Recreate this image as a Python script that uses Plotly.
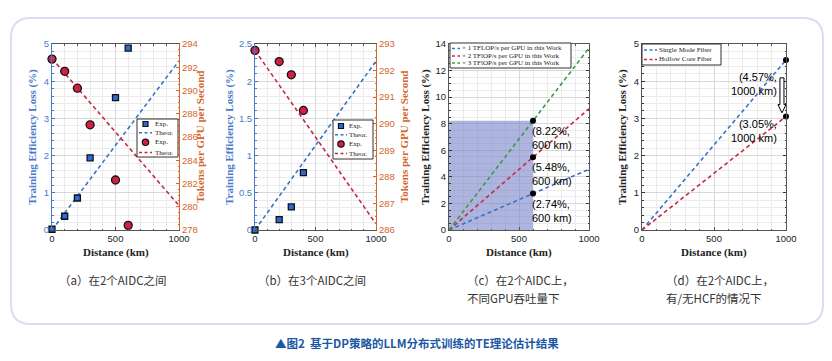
import plotly.graph_objects as go

# ---------------- data ----------------
# (a) between 2 AIDCs
dist_a_exp = [0, 100, 200, 300, 500, 600]
loss_a_exp = [0.02, 0.37, 0.86, 1.94, 3.56, 4.89]
tok_a_exp = [292.7, 291.65, 290.2, 287.05, 282.3, 278.4]
dist_theor = [0, 1000]
loss_a_theor = [0.0, 4.55]
tok_a_theor = [292.75, 280.1]

# (b) between 3 AIDCs
dist_b_exp = [0, 200, 300, 400]
loss_b_exp = [0.0, 0.14, 0.31, 0.77]
tok_b_exp = [292.76, 292.34, 291.84, 290.5]
loss_b_theor = [0.0, 2.27]
tok_b_theor = [292.76, 286.23]

# (c) different GPU throughput
tflops_labels = ["\u00d7 1 TFLOP/s per GPU in this Work",
                 "\u00d7 2 TFlOP/s per GPU in this Work",
                 "\u00d7 3 TFlOP/s per GPU in this Work"]
loss_c_start = [0.0, 0.0, 0.0]
loss_c_end = [4.57, 9.13, 13.7]
c_mark_dist = 600
c_mark_loss = [2.74, 5.48, 8.22]

# (d) with / without HCF
fiber_labels = ["Single Mode Fiber", "Hollow Core Fiber"]
loss_d_start = [0.0, 0.0]
loss_d_end = [4.57, 3.05]
d_mark_dist = 1000

sub_captions = ["\uff08a\uff09\u57282\u4e2aAIDC\u4e4b\u95f4",
                "\uff08b\uff09\u57283\u4e2aAIDC\u4e4b\u95f4",
                "\uff08c\uff09\u57282\u4e2aAIDC\u4e0a\uff0c", "\u4e0d\u540cGPU\u541e\u5410\u91cf\u4e0b",
                "\uff08d\uff09\u57282\u4e2aAIDC\u4e0a\uff0c", "\u6709/\u65e0HCF\u7684\u60c5\u51b5\u4e0b"]
main_caption = "\u25b2\u56fe2  \u57fa\u4e8eDP\u7b56\u7565\u7684LLM\u5206\u5e03\u5f0f\u8bad\u7ec3\u7684TE\u7406\u8bba\u4f30\u8ba1\u7ed3\u679c"

# ---------------- style ----------------
W, H = 832, 361
BLUE = "#3a72c6"
AXBLUE = "#4a7bcb"
RED = "#c42a45"
GREEN = "#3a9a46"
ORANGE = "#d4662c"
SQFILL = "#2c6ad4"
CIRFILL = "#d21f44"
GRID = "#d8d8d8"
MINOR = "#ebebeb"
FRAME = "#555555"
SERIF = "Liberation Serif, Times New Roman, serif"
SANS = "Liberation Sans, Arial, sans-serif"
CJK = "Noto Sans CJK SC"
DASH = "4px,3px"


def px(x):
    return x / W


def py(y):
    return 1 - y / H


Y_TOP, Y_BOT = 44, 230
PANELS = [(52, 179), (255, 376), (449, 589), (642, 786)]

fig = go.Figure()


def xaxis(i):
    l, r = PANELS[i]
    return dict(domain=[px(l), px(r)], range=[0, 1000], tickvals=[0, 500, 1000],
                automargin=False,
                showline=True, linecolor=FRAME, linewidth=1, mirror="ticks",
                ticks="inside", ticklen=3, tickcolor=FRAME,
                tickfont=dict(family=SANS, size=9.5, color="#222"),
                showgrid=True, gridcolor=GRID, gridwidth=0.8, zeroline=False,
                minor=dict(dtick=100, tick0=0, showgrid=True, gridcolor=MINOR,
                           ticks="inside", ticklen=1.5, tickcolor=FRAME),
                fixedrange=True)


def yaxis(anchor, rng, dtick, mdtick, color, mirror):
    return dict(domain=[py(Y_BOT), py(Y_TOP)], anchor=anchor, range=rng, dtick=dtick,
                automargin=False,
                tick0=rng[0], showline=True, linecolor=color, linewidth=1,
                mirror=mirror, ticks="inside", ticklen=3, tickcolor=color,
                tickfont=dict(family=SANS, size=9.5, color=color),
                showgrid=True, gridcolor=GRID, gridwidth=0.8, zeroline=False,
                minor=dict(dtick=mdtick, tick0=rng[0], showgrid=True, gridcolor=MINOR,
                           ticks="inside", ticklen=1.5, tickcolor=color),
                fixedrange=True)


def yaxis_right(overlay, anchor, rng, dtick):
    return dict(domain=[py(Y_BOT), py(Y_TOP)], overlaying=overlay, anchor=anchor, side="right",
                automargin=False,
                range=rng, dtick=dtick, tick0=rng[0], showline=True, linecolor=ORANGE,
                linewidth=1, ticks="inside", ticklen=3, tickcolor=ORANGE,
                tickfont=dict(family=SANS, size=9.5, color=ORANGE),
                showgrid=False, zeroline=False,
                minor=dict(dtick=dtick / 4, tick0=rng[0], showgrid=False,
                           ticks="inside", ticklen=1.5, tickcolor=ORANGE),
                fixedrange=True)


layout = dict(
    width=W, height=H, autosize=False, margin=dict(l=0, r=0, t=0, b=0),
    paper_bgcolor="white", plot_bgcolor="white", showlegend=False,
    xaxis=dict(xaxis(0), anchor="y"),
    yaxis=yaxis("x", [0, 5], 1, 0.2, AXBLUE, False),
    yaxis2=yaxis_right("y", "x", [278, 294], 2),
    xaxis2=dict(xaxis(1), anchor="y3"),
    yaxis3=yaxis("x2", [0, 2.5], 0.5, 0.1, AXBLUE, False),
    yaxis4=yaxis_right("y3", "x2", [286, 293], 1),
    xaxis3=dict(xaxis(2), anchor="y5"),
    yaxis5=yaxis("x3", [0, 14], 2, 0.5, "#333333", "ticks"),
    xaxis4=dict(xaxis(3), anchor="y6"),
    yaxis6=yaxis("x4", [0, 5], 1, 0.2, "#333333", "ticks"),
)
for k in ["yaxis5", "yaxis6"]:
    layout[k]["linecolor"] = FRAME
    layout[k]["tickfont"]["color"] = "#222"
fig.update_layout(**layout)


def dline(x, y, color, xa, ya):
    fig.add_trace(go.Scatter(x=x, y=y, mode="lines", xaxis=xa, yaxis=ya,
                             line=dict(color=color, width=1.6, dash=DASH), hoverinfo="skip"))


def squares(x, y, xa, ya):
    fig.add_trace(go.Scatter(x=x, y=y, mode="markers", xaxis=xa, yaxis=ya, cliponaxis=False,
                             marker=dict(symbol="square", size=6, color=SQFILL,
                                         line=dict(color="#111", width=1.3))))


def circles(x, y, xa, ya):
    fig.add_trace(go.Scatter(x=x, y=y, mode="markers", xaxis=xa, yaxis=ya, cliponaxis=False,
                             marker=dict(symbol="circle", size=8, color=CIRFILL,
                                         line=dict(color="#111", width=1.3))))


# (a)
dline(dist_theor, loss_a_theor, BLUE, "x", "y")
squares(dist_a_exp, loss_a_exp, "x", "y")
dline(dist_theor, tok_a_theor, RED, "x", "y2")
circles(dist_a_exp, tok_a_exp, "x", "y2")
# (b)
dline(dist_theor, loss_b_theor, BLUE, "x2", "y3")
squares(dist_b_exp, loss_b_exp, "x2", "y3")
dline(dist_theor, tok_b_theor, RED, "x2", "y4")
circles(dist_b_exp, tok_b_exp, "x2", "y4")
# (c)
fig.add_shape(type="rect", xref="x3", yref="y5", x0=0, x1=c_mark_dist, y0=0, y1=max(c_mark_loss),
              fillcolor="rgba(118,132,200,0.6)", line=dict(width=0), layer="between")
for s, e, col in zip(loss_c_start, loss_c_end, [BLUE, RED, GREEN]):
    dline(dist_theor, [s, e], col, "x3", "y5")
fig.add_trace(go.Scatter(x=[c_mark_dist] * 3, y=c_mark_loss, mode="markers", xaxis="x3", yaxis="y5",
                         marker=dict(size=6, color="black")))
for v in c_mark_loss:
    fig.add_annotation(xref="x3", yref="y5", x=c_mark_dist, y=v, xanchor="left", yanchor="top",
                       xshift=-3, yshift=-2, showarrow=False, align="left",
                       text=f"({v:.2f}%,<br>{c_mark_dist} km)",
                       font=dict(family=SANS, size=11, color="black"))
# (d)
for s, e, col in zip(loss_d_start, loss_d_end, [BLUE, RED]):
    dline(dist_theor, [s, e], col, "x4", "y6")
fig.add_trace(go.Scatter(x=[d_mark_dist] * 2, y=loss_d_end, mode="markers", xaxis="x4", yaxis="y6",
                         cliponaxis=False, marker=dict(size=6, color="black")))
for v, ys in zip(loss_d_end, [-9, 1]):
    fig.add_annotation(xref="x4", yref="y6", x=d_mark_dist, y=v, xanchor="right", yanchor="top",
                       xshift=-7, yshift=ys, showarrow=False, align="right",
                       text=f"({v:.2f}%,<br>{d_mark_dist} km)",
                       font=dict(family=SANS, size=11, color="black"))
# hollow arrow between the two values
ax_c = d_mark_dist - 28
top, base, tip = loss_d_end[0] - 0.48, loss_d_end[1] + 0.32, loss_d_end[1] + 0.1
sw, hw = 14, 28
path = (f"M {ax_c - sw},{top} L {ax_c + sw},{top} L {ax_c + sw},{base} L {ax_c + hw},{base} "
        f"L {ax_c},{tip} L {ax_c - hw},{base} L {ax_c - sw},{base} Z")
fig.add_shape(type="path", xref="x4", yref="y6", path=path, fillcolor="white",
              line=dict(color="black", width=1))


# ---------------- legends (drawn) ----------------
def legend(box, gx, tx, entries):
    x0, y0, x1, y1 = box
    fig.add_shape(type="rect", xref="paper", yref="paper", x0=px(x0), x1=px(x1), y0=py(y1), y1=py(y0),
                  fillcolor="white", line=dict(color="#333", width=1))
    for kind, col, label, yy in entries:
        if kind == "line":
            fig.add_shape(type="line", xref="paper", yref="paper", x0=px(gx[0]), x1=px(gx[1]),
                          y0=py(yy), y1=py(yy), line=dict(color=col, width=1.6, dash="3px,2.5px"))
        elif kind == "square":
            c = (gx[0] + gx[1]) / 2
            fig.add_shape(type="rect", xref="paper", yref="paper", x0=px(c - 2.5), x1=px(c + 2.5),
                          y0=py(yy + 2.5), y1=py(yy - 2.5), fillcolor=SQFILL,
                          line=dict(color="#111", width=1.2))
        else:
            c = (gx[0] + gx[1]) / 2
            fig.add_shape(type="circle", xref="paper", yref="paper", x0=px(c - 3.2), x1=px(c + 3.2),
                          y0=py(yy + 3.2), y1=py(yy - 3.2), fillcolor=CIRFILL,
                          line=dict(color="#111", width=1.2))
        fig.add_annotation(xref="paper", yref="paper", x=px(tx), y=py(yy), xanchor="left",
                           yanchor="middle", showarrow=False, text=label,
                           font=dict(family=SERIF, size=7, color="#222"))


legend((137, 119, 178, 157), (139, 152), 153,
       [("square", SQFILL, "Exp.", 124), ("line", BLUE, "Theor.", 132.7),
        ("circle", CIRFILL, "Exp.", 142.3), ("line", RED, "Theor.", 152.5)])
legend((333, 120, 373, 159), (335, 347), 347,
       [("square", SQFILL, "Exp.", 126), ("line", BLUE, "Theor.", 134.7),
        ("circle", CIRFILL, "Exp.", 144), ("line", RED, "Theor.", 153.5)])
legend((450, 43, 571, 68), (452, 460), 460,
       [("line", c, l, y) for c, l, y in zip([BLUE, RED, GREEN], tflops_labels, [48.5, 56, 63])])
legend((642, 44, 721, 65), (644, 657), 657,
       [("line", c, l, y) for c, l, y in zip([BLUE, RED], fiber_labels, [50, 59.5])])

# ---------------- axis titles ----------------
def title(text, x, y, color, angle=0):
    fig.add_annotation(xref="paper", yref="paper", x=px(x), y=py(y), xanchor="center",
                       yanchor="middle", showarrow=False, text=f"<b>{text}</b>", textangle=angle,
                       font=dict(family=SERIF, size=11, color=color))


ymid = (Y_TOP + Y_BOT) / 2
for (l, r) in PANELS:
    title("Distance (km)", (l + r) / 2, 252, "#222")
title("Training Efficiency Loss (%)", 33, ymid, AXBLUE, -90)
title("Tokens per GPU per Second", 200, ymid, ORANGE, -90)
title("Training Efficiency Loss (%)", 230, ymid, AXBLUE, -90)
title("Tokens per GPU per Second", 404, ymid, ORANGE, -90)
title("Training Efficiency Loss (%)", 426, ymid, "#222", -90)
title("Training Efficiency Loss (%)", 623, ymid, "#222", -90)

# ---------------- captions ----------------
def cap(text, x, y, anchor="center", color="#333", size=11.5):
    fig.add_annotation(xref="paper", yref="paper", x=px(x), y=py(y), xanchor=anchor,
                       yanchor="middle", showarrow=False, text=text,
                       font=dict(family=CJK, size=size, color=color))


cap(sub_captions[0], 112, 280)
cap(sub_captions[1], 312, 280)
cap(sub_captions[2], 465, 280, "left")
cap(sub_captions[3], 465, 298, "left")
cap(sub_captions[4], 664, 280, "left")
cap(sub_captions[5], 664, 298, "left")
cap(f"<b>{main_caption}</b>", 417, 343, color="#1b58a5", size=11.5)

# rounded outer frame
L, T, R, B, rad = 11, 18, 823, 324, 20
rx, ry = rad / W, rad / H
xl, xr, yt, yb = px(L), px(R), py(T), py(B)
frame = (f"M {xl + rx},{yt} L {xr - rx},{yt} Q {xr},{yt} {xr},{yt - ry} L {xr},{yb + ry} "
         f"Q {xr},{yb} {xr - rx},{yb} L {xl + rx},{yb} Q {xl},{yb} {xl},{yb + ry} "
         f"L {xl},{yt - ry} Q {xl},{yt} {xl + rx},{yt} Z")
fig.add_shape(type="path", xref="paper", yref="paper", path=frame,
              line=dict(color="#dcdcf2", width=2), layer="below")

fig.write_html("out.html", config={"displayModeBar": False},
               post_script="document.body.style.margin='0';document.body.style.overflow='hidden';")
